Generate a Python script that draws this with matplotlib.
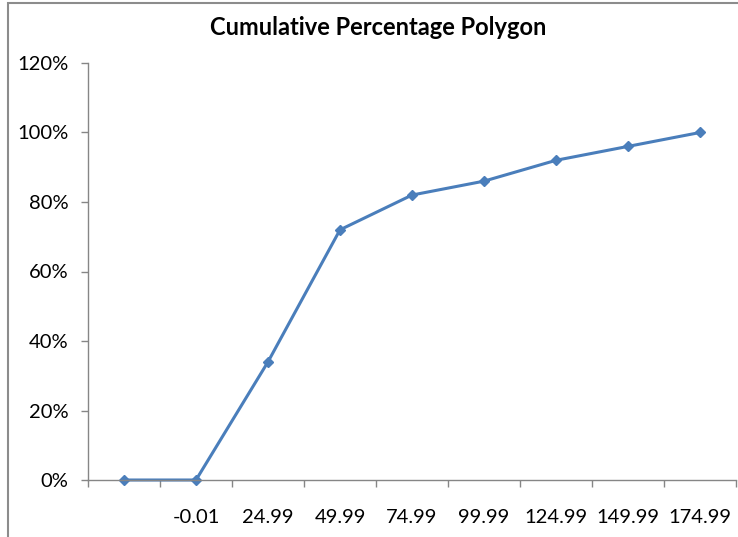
import matplotlib.pyplot as plt
from matplotlib.patches import Rectangle
from matplotlib.ticker import FixedLocator, FuncFormatter

categories = ["", "-0.01", "24.99", "49.99", "74.99", "99.99", "124.99", "149.99", "174.99"]
cum_pct = [0, 0, 34, 72, 82, 86, 92, 96, 100]
y_ticks = [0, 20, 40, 60, 80, 100, 120]

plt.rcParams["font.family"] = ["Lato", "DejaVu Sans"]

W, H = 738, 537
fig = plt.figure(figsize=(W / 100, H / 100), dpi=100)

# chart area border (only top and left visible in the crop)
fig.add_artist(Rectangle((8 / W, -0.05), 1.2, 1 - 3 / H + 0.05, transform=fig.transFigure,
                         fill=False, edgecolor="#8c8c8c", linewidth=1.5))

ax = fig.add_axes([88 / W, (H - 480) / H, (736 - 88) / W, (480 - 63) / H])

gray = "#868686"
blue = "#4a7ebb"
x = list(range(len(categories)))
ax.plot(x, cum_pct, color=blue, linewidth=2.2, marker="D", markersize=5,
        markerfacecolor=blue, markeredgecolor=blue, clip_on=False)

ax.set_xlim(-0.5, len(categories) - 0.5)
ax.set_ylim(0, 120)
ax.set_yticks(y_ticks)
ax.yaxis.set_major_formatter(FuncFormatter(lambda v, p: f"{int(v)}%"))

ax.set_xticks(x)
ax.set_xticklabels(categories)
ax.xaxis.set_minor_locator(FixedLocator([i - 0.5 for i in range(len(categories) + 1)]))
ax.tick_params(axis="x", which="major", length=0, pad=21, labelsize=14.5)
ax.tick_params(axis="x", which="minor", length=5, color=gray, width=1)
ax.tick_params(axis="y", length=5, color=gray, width=1, labelsize=14.5, pad=9)

for s in ["top", "right"]:
    ax.spines[s].set_visible(False)
for s in ["left", "bottom"]:
    ax.spines[s].set_color(gray)
    ax.spines[s].set_linewidth(1)

fig.text(378 / W, 1 - 28 / H, "Cumulative Percentage Polygon", ha="center", va="center",
         fontsize=17, fontweight="bold")

fig.savefig("out.png", dpi=100)
